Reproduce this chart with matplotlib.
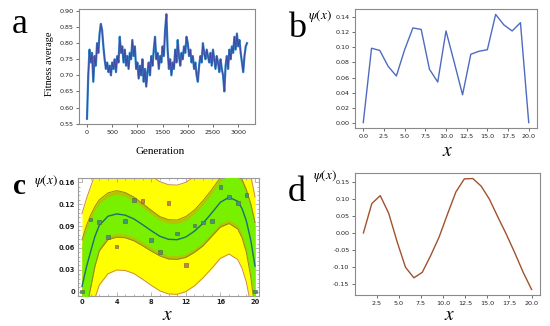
import numpy as np
import matplotlib
matplotlib.use("Agg")
import matplotlib.pyplot as plt
from matplotlib.ticker import MultipleLocator, FixedLocator, FixedFormatter

plt.rcParams['mathtext.fontset'] = 'stix'
plt.rcParams['font.family'] = ['DejaVu Sans']

# ---------------- Panel a data ----------------
gen_step = 25
fitness = [0.565, 0.70, 0.78, 0.74, 0.77, 0.68, 0.76, 0.73, 0.80, 0.77,
           0.83, 0.86, 0.84, 0.79, 0.75, 0.72, 0.74, 0.71, 0.73, 0.70,
           0.74, 0.72, 0.75, 0.71, 0.76, 0.74, 0.82, 0.77, 0.79, 0.74,
           0.78, 0.73, 0.76, 0.72, 0.77, 0.75, 0.81, 0.76, 0.79, 0.72,
           0.74, 0.69, 0.73, 0.70, 0.75, 0.68, 0.72, 0.665, 0.71, 0.74,
           0.70, 0.76, 0.73, 0.78, 0.82, 0.75, 0.77, 0.72, 0.76, 0.74,
           0.79, 0.76, 0.84, 0.89, 0.78, 0.72, 0.75, 0.70, 0.74, 0.72,
           0.78, 0.74, 0.81, 0.76, 0.73, 0.77, 0.75, 0.79, 0.77, 0.82,
           0.80, 0.76, 0.78, 0.74, 0.76, 0.72, 0.74, 0.70, 0.68, 0.73,
           0.76, 0.74, 0.80, 0.77, 0.75, 0.78, 0.76, 0.74, 0.77, 0.73,
           0.78, 0.75, 0.72, 0.76, 0.74, 0.71, 0.75, 0.72, 0.70, 0.65,
           0.73, 0.76, 0.72, 0.78, 0.75, 0.79, 0.77, 0.82, 0.78, 0.83,
           0.79, 0.81, 0.77, 0.74, 0.71, 0.76, 0.79, 0.80]
generations = np.arange(len(fitness)) * gen_step
a_xticks = [0, 500, 1000, 1500, 2000, 2500, 3000]
a_yticks = [0.55, 0.60, 0.65, 0.70, 0.75, 0.80, 0.85, 0.90]

# ---------------- Panel b data ----------------
b_x = list(range(21))
b_psi = [0.0, 0.099, 0.096, 0.075, 0.062, 0.097, 0.126, 0.124, 0.071, 0.054,
         0.122, 0.080, 0.037, 0.091, 0.095, 0.097, 0.144, 0.130, 0.122, 0.133, 0.0]

# ---------------- Panel c data ----------------
fit_x = [0, 0.5, 1, 1.5, 2, 3, 4, 5, 6, 7, 8, 9, 10, 11, 12, 13, 14, 15, 16, 17,
         18, 18.5, 19, 19.5, 20]
fit_mean = [0.007, 0.033, 0.055, 0.076, 0.091, 0.1035, 0.1067, 0.105, 0.0998, 0.092,
            0.0837, 0.076, 0.0718, 0.0713, 0.075, 0.083, 0.094, 0.108, 0.1227, 0.1296,
            0.124, 0.114, 0.097, 0.071, 0.035]
inner_half = [0.064, 0.057, 0.050, 0.041, 0.035, 0.032, 0.032, 0.031, 0.030, 0.029,
              0.028, 0.027, 0.027, 0.027, 0.028, 0.029, 0.031, 0.032, 0.034, 0.036,
              0.038, 0.040, 0.043, 0.050, 0.060]
outer_half = [0.100, 0.094, 0.089, 0.085, 0.082, 0.079, 0.077, 0.076, 0.075, 0.075,
              0.075, 0.075, 0.075, 0.075, 0.075, 0.075, 0.075, 0.076, 0.077, 0.078,
              0.080, 0.082, 0.084, 0.089, 0.095]
c_yticks = [0, 0.03, 0.06, 0.09, 0.12, 0.15]
c_yticklabels = ["0", "0.03", "0.06", "0.09", "0.12", "0.16"]
c_xticks = [0, 4, 8, 12, 16, 20]

# ---------------- Panel d data ----------------
d_x = [1.0, 1.95, 2.9, 3.85, 4.8, 5.75, 6.7, 7.65, 8.6, 9.55, 10.5, 11.45, 12.4,
       13.35, 14.3, 15.25, 16.2, 17.15, 18.1, 19.05, 20.0]
d_psi = [0.0, 0.086, 0.109, 0.058, -0.025, -0.100, -0.131, -0.115, -0.066, -0.012,
         0.055, 0.120, 0.158, 0.159, 0.137, 0.098, 0.046, -0.004, -0.058, -0.115, -0.165]

W, H = 550, 326
fig = plt.figure(figsize=(W / 100, H / 100), dpi=100)


def add_ax(left, top, right, bottom):
    return fig.add_axes([left / W, 1 - bottom / H, (right - left) / W, (bottom - top) / H])


def style_mpl(ax):
    for s in ax.spines.values():
        s.set_color('#8a8a8a')
        s.set_linewidth(0.8)
    ax.tick_params(labelsize=4.6, length=2.5, width=0.6, color='#555555',
                   labelcolor='#222222', pad=1.5)


def ftext(x, y, s, **kw):
    fig.text(x / W, 1 - y / H, s, **kw)


# ---- a ----
axa = add_ax(79, 9, 255, 124)
axa.plot(generations, fitness, color='#2f86c8', lw=1.6)
axa.plot(generations, fitness, color='#4447a0', lw=0.7)
axa.set_xticks(a_xticks)
axa.set_yticks(a_yticks)
axa.set_yticklabels([f"{v:.2f}" for v in a_yticks])
style_mpl(axa)
ftext(12, 33, "a", fontsize=26, family='Liberation Serif', va='baseline')
ftext(160, 152, "Generation", fontsize=8, family='Liberation Serif', ha='center', va='center')
ftext(50, 64, "Fitness average", fontsize=7.5, family='Liberation Serif', ha='center',
      va='center', rotation=90)

# ---- b ----
axb = add_ax(355, 9, 537, 128)
axb.plot(b_x, b_psi, color='#4f6bbf', lw=1.0)
axb.xaxis.set_major_locator(MultipleLocator(2.5))
axb.yaxis.set_major_locator(MultipleLocator(0.02))
axb.xaxis.set_major_formatter(matplotlib.ticker.FormatStrFormatter('%.1f'))
axb.yaxis.set_major_formatter(matplotlib.ticker.FormatStrFormatter('%.2f'))
style_mpl(axb)
ftext(288, 37, "b", fontsize=26, family='Liberation Serif', va='baseline')
ftext(320, 19, r"$\psi(x)$", fontsize=9.5, ha='center', va='baseline')
ftext(448, 156, r"$x$", fontsize=14, ha='center', va='baseline')

# ---- c ----
axc = add_ax(78, 178, 259, 296)
fx = np.array(fit_x)
fm = np.array(fit_mean)
hi = np.array(inner_half)
ho = np.array(outer_half)
axc.fill_between(fx, fm - ho, fm + ho, color='#ffff00', lw=0, zorder=1)
axc.fill_between(fx, fm - hi, fm + hi, color='#b4c400', lw=0, zorder=2)
axc.fill_between(fx, fm - (hi - 0.005), fm + (hi - 0.005), color='#78f000', lw=0, zorder=3)
axc.plot(fx, fm + ho, color='#d08a40', lw=0.7, zorder=4)
axc.plot(fx, fm - ho, color='#d08a40', lw=0.7, zorder=4)
axc.plot(fx, fm + hi, color='#8c8a20', lw=0.7, zorder=4)
axc.plot(fx, fm - hi, color='#8c8a20', lw=0.7, zorder=4)
axc.plot(fx, fm, color='#1d6f73', lw=1.0, zorder=5)
m_at = np.interp(b_x, fx, fm)
h_at = np.interp(b_x, fx, hi)
cols = ['#3a9a7a' if abs(y - m) <= h else '#c8843a' for y, m, h in zip(b_psi, m_at, h_at)]
axc.scatter(b_x, b_psi, s=7, marker='s', c=cols, edgecolors='#6a5a3a', linewidths=0.4, zorder=6)
axc.set_xlim(-0.46, 20.46)
axc.set_ylim(-0.006, 0.156)
axc.xaxis.set_major_locator(FixedLocator(c_xticks))
axc.yaxis.set_major_locator(FixedLocator(c_yticks))
axc.yaxis.set_major_formatter(FixedFormatter(c_yticklabels))
axc.xaxis.set_minor_locator(MultipleLocator(1))
axc.yaxis.set_minor_locator(MultipleLocator(0.006))
for s in axc.spines.values():
    s.set_color('#9a9a9a')
    s.set_linewidth(0.8)
axc.tick_params(which='both', direction='in', top=True, right=True, color='#999999', width=0.5)
axc.tick_params(which='major', length=3, labelsize=4.8, pad=2, labelcolor='#222222')
axc.tick_params(which='minor', length=1.5)
for lab in axc.get_xticklabels() + axc.get_yticklabels():
    lab.set_fontweight('bold')
ftext(13, 194, "c", fontsize=21, family='Liberation Serif', fontweight='bold', va='baseline')
ftext(46, 184, r"$\psi(x)$", fontsize=9.5, ha='center', va='baseline')
ftext(168, 320, r"$x$", fontsize=14, ha='center', va='baseline')

# ---- d ----
axd = add_ax(355, 173, 540, 295)
axd.plot(d_x, d_psi, color='#a0522d', lw=1.0)
axd.xaxis.set_major_locator(MultipleLocator(2.5))
axd.yaxis.set_major_locator(MultipleLocator(0.05))
axd.xaxis.set_major_formatter(matplotlib.ticker.FormatStrFormatter('%.1f'))
axd.yaxis.set_major_formatter(matplotlib.ticker.FormatStrFormatter('%.2f'))
style_mpl(axd)
ftext(288, 201, "d", fontsize=26, family='Liberation Serif', va='baseline')
ftext(325, 179, r"$\psi(x)$", fontsize=9.5, ha='center', va='baseline')
ftext(450, 320, r"$x$", fontsize=14, ha='center', va='baseline')

fig.savefig("out.png", dpi=100)
